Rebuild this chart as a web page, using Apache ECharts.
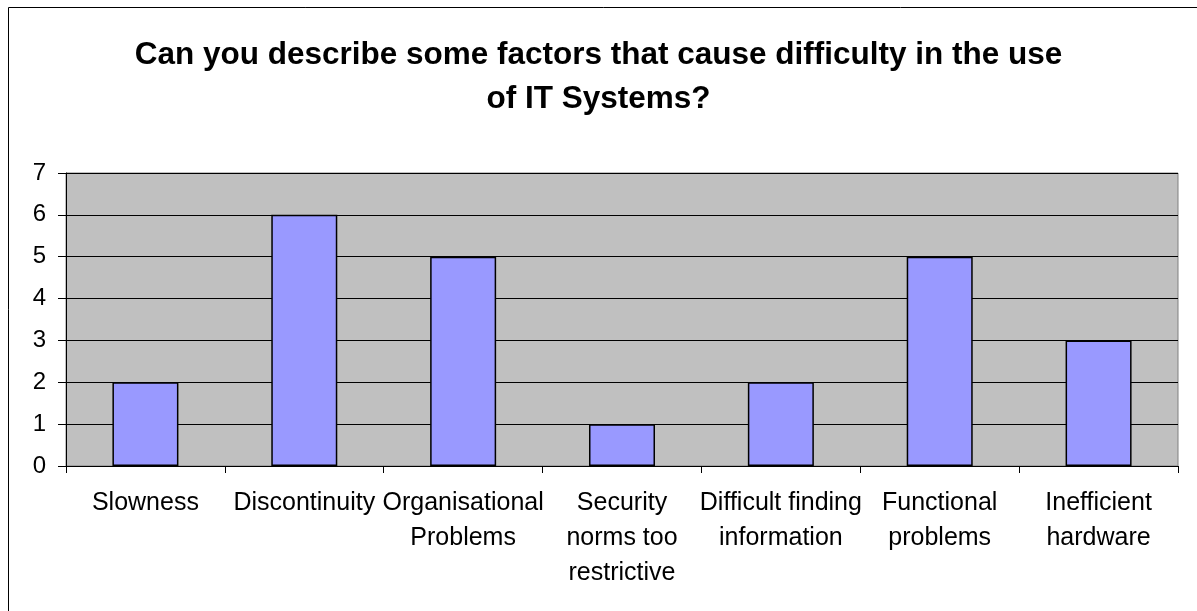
<!DOCTYPE html>
<html>
<head>
<meta charset="utf-8">
<script src="https://cdn.jsdelivr.net/npm/echarts@6/dist/echarts.min.js"></script>
<style>
  html, body { margin: 0; padding: 0; background: #fff; }
  #chart { width: 1197px; height: 611px; }
</style>
</head>
<body>
<div id="chart"></div>
<script>
// Survey answers: factors that make IT systems hard to use
const titleText = 'Can you describe some factors that cause difficulty in the use\nof IT Systems?';
const categories = [
  'Slowness',
  'Discontinuity',
  'Organisational\nProblems',
  'Security\nnorms too\nrestrictive',
  'Difficult finding\ninformation',
  'Functional\nproblems',
  'Inefficient\nhardware'
];
const counts = [2, 6, 5, 1, 2, 5, 3];
const yTicks = [0, 1, 2, 3, 4, 5, 6, 7];

const chart = echarts.init(document.getElementById('chart'), null, { renderer: 'canvas' });

chart.setOption({
  animation: false,
  backgroundColor: '#ffffff',
  textStyle: { fontFamily: 'Liberation Sans, Arial, sans-serif' },
  graphic: [{
    // chart-area frame, open towards the right and bottom edges of the page
    type: 'rect',
    shape: { x: 8.5, y: 7.5, width: 1400, height: 800 },
    style: { fill: 'none', stroke: '#000', lineWidth: 1 },
    silent: true, z: -1
  }],
  title: {
    text: titleText,
    left: 'center',
    top: 28,
    textStyle: {
      fontFamily: 'Liberation Sans, Arial, sans-serif',
      fontSize: 31.5,
      fontWeight: 'bold',
      color: '#000',
      lineHeight: 44
    }
  },
  grid: {
    left: 66, right: 19, top: 173, bottom: 145,
    show: true,
    backgroundColor: '#C0C0C0',
    borderColor: '#808080',
    borderWidth: 1
  },
  xAxis: {
    type: 'category',
    data: categories,
    axisLine: { show: true, lineStyle: { color: '#000', width: 1 } },
    axisTick: { show: true, length: 7, alignWithLabel: false, lineStyle: { color: '#000' } },
    axisLabel: {
      interval: 0,
      margin: 20,
      color: '#000',
      fontSize: 25,
      lineHeight: 35,
      fontFamily: 'Liberation Sans, Arial, sans-serif'
    }
  },
  yAxis: {
    type: 'value',
    min: yTicks[0],
    max: yTicks[yTicks.length - 1],
    interval: 1,
    axisLine: { show: true, lineStyle: { color: '#000', width: 1 } },
    axisTick: { show: true, length: 8, lineStyle: { color: '#000' } },
    axisLabel: {
      margin: 20,
      color: '#000',
      fontSize: 24,
      fontFamily: 'Liberation Sans, Arial, sans-serif'
    },
    splitLine: { show: true, lineStyle: { color: '#000', width: 1 } }
  },
  series: [{
    type: 'bar',
    data: counts,
    barWidth: 66,
    itemStyle: { color: '#9999FF', borderColor: '#000', borderWidth: 1.5 }
  }]
});
</script>
</body>
</html>
